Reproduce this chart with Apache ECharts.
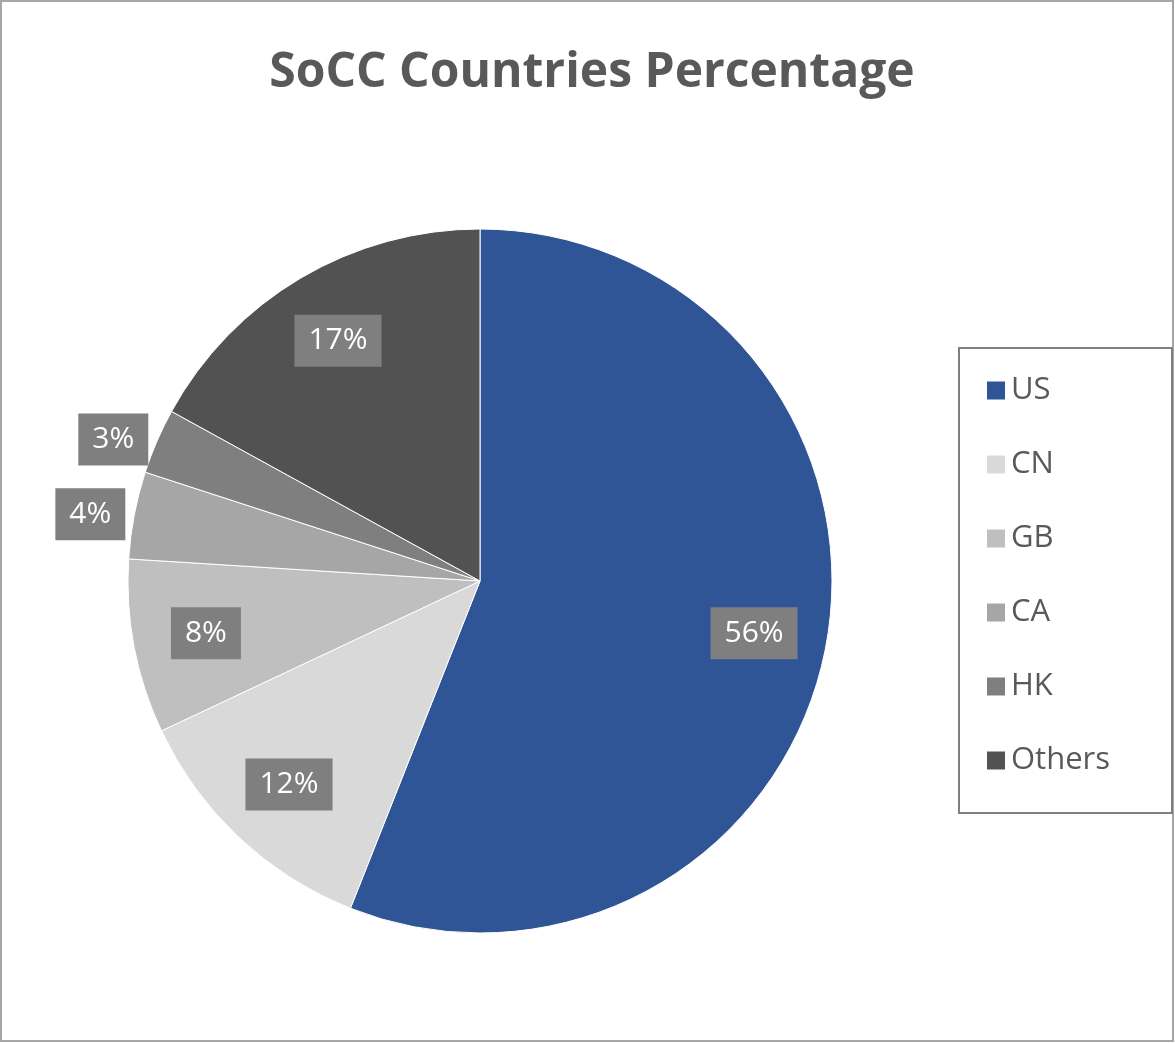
<!DOCTYPE html>
<html><head><meta charset="utf-8">
<script src="https://cdn.jsdelivr.net/npm/echarts@6/dist/echarts.min.js"></script>
<style>html,body{margin:0;padding:0;background:#fff}#c{width:1175px;height:1043px}</style>
</head><body><div id="c"></div>
<script>
const categories = ["US", "CN", "GB", "CA", "HK", "Others"];
const values = [56, 12, 8, 4, 3, 17];
const colors = ["#2f5597", "#d9d9d9", "#bfbfbf", "#a6a6a6", "#7f7f7f", "#525252"];
const outsideLabels = ["CA", "HK"];

const font = "'Open Sans', 'Liberation Sans', sans-serif";
const chart = echarts.init(document.getElementById("c"));

const labelBox = {
  show: true,
  formatter: "{c}%",
  color: "#fff",
  fontSize: 30,
  fontFamily: font,
  backgroundColor: "#7f7f7f",
  padding: [12, 14, 10, 14],
};

chart.setOption({
  animation: false,
  title: {
    text: "SoCC Countries Percentage",
    left: "center",
    top: 44,
    left: 587,
    textAlign: "center",
    textStyle: { fontSize: 48, fontWeight: "bold", color: "#595959", fontFamily: font },
  },
  graphic: [
    { type: "rect", shape: { x: 1, y: 1, width: 1172, height: 1040 }, style: { fill: "none", stroke: "#a6a6a6", lineWidth: 2 } },
    { type: "rect", shape: { x: 959, y: 348, width: 213, height: 465 }, style: { fill: "none", stroke: "#7f7f7f", lineWidth: 2 } },
  ],
  legend: {
    orient: "vertical",
    left: 980,
    top: 370,
    itemWidth: 20,
    itemHeight: 20,
    itemGap: 43,
    icon: "rect",
    textStyle: { fontSize: 31, color: "#595959", fontFamily: font },
    data: categories,
  },
  series: [
    {
      type: "pie",
      center: [480, 581],
      radius: [0, 352],
      startAngle: 90,
      clockwise: true,
      label: { show: false },
      labelLine: { show: false },
      itemStyle: { borderColor: "#fff", borderWidth: 1 },
      data: categories.map((name, i) => ({ name, value: values[i], itemStyle: { color: colors[i] } })),
    },
    {
      type: "pie",
      center: [480, 581],
      radius: [200, 352],
      startAngle: 90,
      clockwise: true,
      silent: true,
      legendHoverLink: false,
      itemStyle: { color: "transparent" },
      label: Object.assign({ position: "inside" }, labelBox),
      labelLine: { show: false, length: 4, length2: 0 },
      data: categories.map((name, i) => ({
        name: name + " ",
        value: values[i],
        label: outsideLabels.includes(name) ? { position: "outside" } : undefined,
      })),
    },
  ],
});
</script></body></html>
